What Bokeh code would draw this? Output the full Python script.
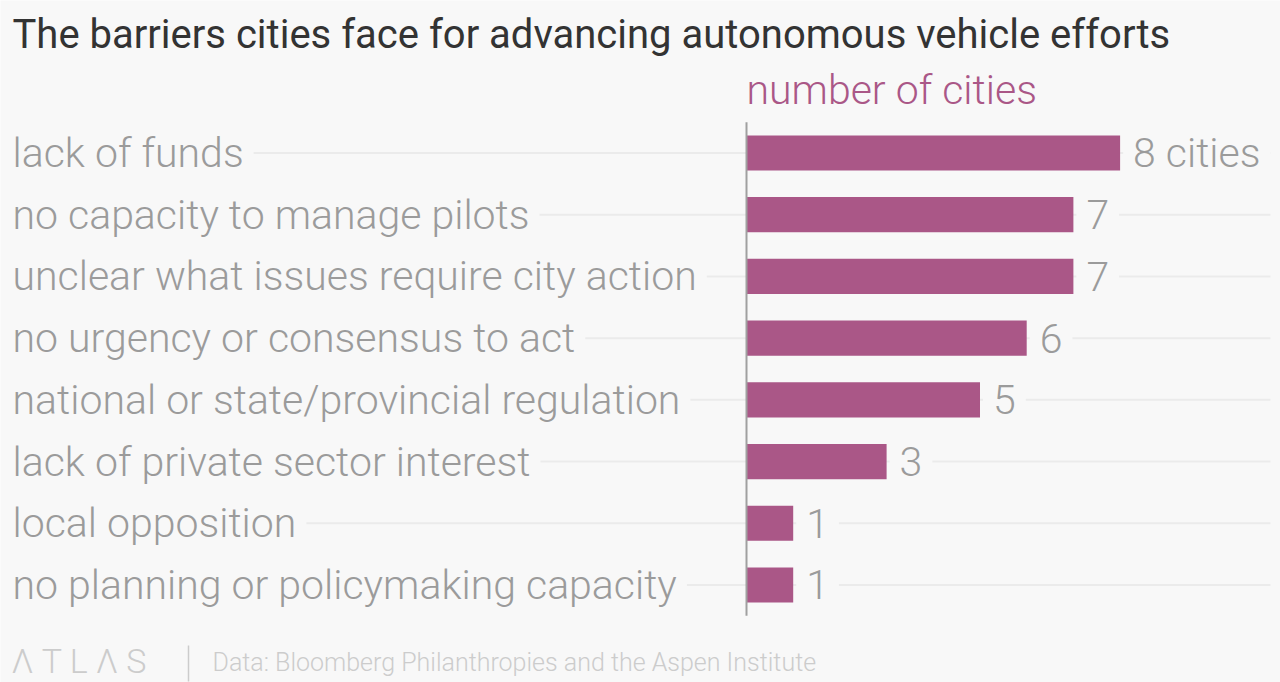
from bokeh.plotting import figure
from bokeh.models import Range1d, ColumnDataSource
from bokeh.core.properties import value
from bokeh.embed import file_html
from bokeh.resources import INLINE

# ---- data ----
categories = [
    "lack of funds",
    "no capacity to manage pilots",
    "unclear what issues require city action",
    "no urgency or consensus to act",
    "national or state/provincial regulation",
    "lack of private sector interest",
    "local opposition",
    "no planning or policymaking capacity",
]
cities = [8, 7, 7, 6, 5, 3, 1, 1]
value_labels = [f"{cities[0]} cities"] + [str(v) for v in cities[1:]]
title_text = "The barriers cities face for advancing autonomous vehicle efforts"
axis_title = "number of cities"
source_text = "Data: Bloomberg Philanthropies and the Aspen Institute"
logo_text = "Λ T L Λ S"

# ---- layout constants (pixels) ----
W, H = 1280, 682
X0_PX = 746.0      # pixel position of value 0
UNIT = 46.7        # pixels per city
ROW0_PX = 152.5    # pixel centre of first row
ROW = 61.71        # pixels between rows

BG = "#f8f8f8"
BAR = "#aa5787"
GREY = "#9b9b9b"
GRID = "#ebebeb"
LIGHT = "#cccccc"
LABEL_FONT = value("Roboto Light, Roboto")
FONT = value("Roboto")


def px2x(px):
    return (px - X0_PX) / UNIT


def px2y(py):
    return (py - ROW0_PX) / ROW


idx = list(range(len(categories)))
src = ColumnDataSource(dict(y=idx, cat=categories, v=cities, lab=value_labels))

p = figure(width=W, height=H, output_backend="svg", toolbar_location=None,
           x_range=Range1d(px2x(0), px2x(W)), y_range=Range1d(px2y(H), px2y(0)),
           min_border=0, background_fill_color=BG, border_fill_color=BG,
           outline_line_color=None)
p.xaxis.visible = False
p.yaxis.visible = False
p.grid.visible = False

# grid lines
p.segment(x0=px2x(12), x1=px2x(1270), y0="y", y1="y", source=src,
          line_color=GRID, line_width=2)

# bars
p.hbar(y="y", left=0, right="v", height=0.57, source=src,
       fill_color=BAR, line_color=None)

# axis line at zero
p.segment(x0=[0], x1=[0], y0=[-0.5], y1=[7.5], line_color="#a0a0a0", line_width=2)

# category labels
p.text(x=px2x(12), y="y", text="cat", source=src, text_font=LABEL_FONT,
       text_font_size="41px", text_color=GREY, text_baseline="middle",
       text_align="left", background_fill_color=BG, padding=10, x_offset=-10)

# value labels
p.text(x="v", y="y", text="lab", source=src, text_font=LABEL_FONT,
       text_font_size="41px", text_color=GREY, text_baseline="middle",
       text_align="left", background_fill_color=BG, padding=10, x_offset=3)

# title
p.text(x=[px2x(12)], y=[px2y(34)], text=[title_text], text_font=FONT,
       text_font_size="40px", text_color="#333333", text_baseline="middle")
# axis title
p.text(x=[0], y=[px2y(89.5)], text=[axis_title], text_font=LABEL_FONT,
       text_font_size="41px", text_color=BAR, text_baseline="middle")
# footer
p.text(x=[px2x(11)], y=[px2y(660.5)], text=[logo_text], text_font=LABEL_FONT,
       text_font_size="34px", text_color=LIGHT, text_baseline="middle")
p.segment(x0=[px2x(188)], x1=[px2x(188)], y0=[px2y(645)], y1=[px2y(681)],
          line_color=LIGHT, line_width=1.5)
p.text(x=[px2x(212)], y=[px2y(662)], text=[source_text], text_font=LABEL_FONT,
       text_font_size="25px", text_color=LIGHT, text_baseline="middle")

open("out.html", "w").write(file_html(p, INLINE))
